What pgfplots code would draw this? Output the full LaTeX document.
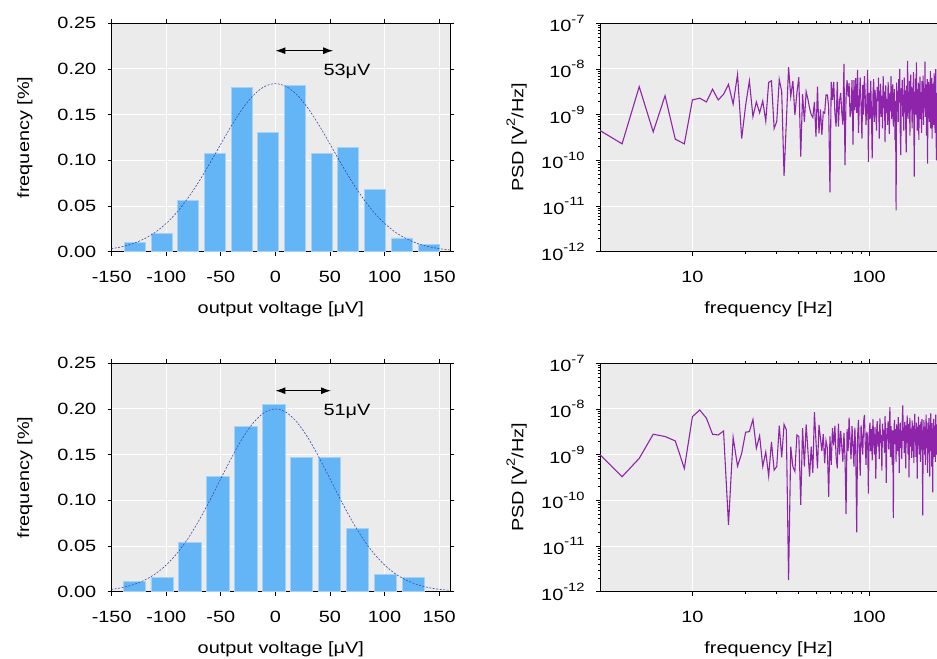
\documentclass[border=0pt]{standalone}
\usepackage{pgfplots}
\pgfplotsset{compat=1.18}
\usepackage{pgfplotstable}
\usetikzlibrary{arrows.meta}
\usepackage{fontspec}
\setmainfont{Liberation Sans}[FakeStretch=1.22]
\newcommand\fs{\fontsize{16.3bp}{19bp}\selectfont}
\newcommand\mysup[1]{\raisebox{8.5bp}{\fontsize{12bp}{12bp}\selectfont #1}}
\definecolor{bgc}{HTML}{EBEBEB}
\definecolor{barc}{HTML}{64B5F6}
\definecolor{barb}{HTML}{A6D2F8}
\definecolor{gaussc}{HTML}{3A4AB0}
\definecolor{psdc}{HTML}{8E24AA}
\tikzset{myarrow/.style={{Latex[length=10bp,width=7bp]}-{Latex[length=10bp,width=7bp]}, line width=1.2bp}}

\pgfplotstableread{
f p
3 4.5e-10
4 2.3e-10
5 4.1e-9
6 4.2e-10
7 2.6e-9
8 2.9e-10
9 2.3e-10
10 2.1e-9
11 2.3e-9
12 1.9e-9
13 3.6e-9
14 2.1e-9
15 2.8e-9
16 4.6e-9
17 1.7e-9
18 7.6e-9
19 3.0e-10
20 1.6e-9
21 5.5e-9
22 9.1e-10
23 1.9e-9
24 1.1e-9
25 2.0e-9
26 7.2e-10
27 5.1e-9
28 5.5e-9
29 5.0e-10
30 7.1e-10
31 5.9e-9
32 3.2e-9
33 4.6e-11
34 7.0e-10
35 1.1e-8
36 2.5e-9
37 5.5e-9
38 9.8e-10
39 3.0e-9
40 6.6e-9
41 1.2e-10
42 2.8e-9
43 7.0e-10
44 3.2e-9
45 2.2e-9
46 1.4e-9
47 1.0e-9
48 8.7e-10
49 1.9e-9
50 3.3e-10
51 4.1e-9
52 3.9e-10
53 1.3e-9
54 3.6e-10
55 1.15e-9
56 1.07e-9
57 2.7e-9
58 2.7e-9
59 1.5e-9
60 2.0e-11
61 5.2e-9
62 2.1e-9
63 5.2e-9
64 1.07e-9
65 5.5e-10
66 5.2e-9
67 5.5e-10
68 2.0e-9
69 3.0e-9
70 1.1e-9
71 6.0e-10
72 1.3e-8
73 7.9e-11
74 2.5e-9
75 5.7e-9
76 2.5e-9
77 4.9e-9
78 8.9e-10
79 1.26e-9
80 5.7e-9
81 2.2e-10
82 5.7e-9
83 1.26e-9
84 6.3e-9
85 1.1e-9
86 9.5e-9
87 4.0e-10
88 2.0e-9
89 6.5e-9
90 1.5e-9
91 3.0e-10
92 4.5e-9
93 1.0e-9
94 7.0e-9
95 2.5e-9
96 6.0e-10
97 1.8e-9
98 9.5e-9
99 9.3e-11
100 3.0e-9
101 8.0e-10
102 5.5e-9
103 1.2e-9
104 1.1e-10
105 2.5e-9
106 6.0e-9
107 7.0e-10
108 3.5e-9
109 1.5e-9
110 4.5e-10
111 4.0e-9
112 2.0e-9
113 6.5e-9
114 3.0e-10
115 1.8e-9
116 4.8e-9
117 9.0e-10
118 2.6e-9
119 5.0e-10
120 7.0e-9
121 1.4e-9
122 3.2e-9
123 2.5e-10
124 4.4e-9
125 1.1e-9
126 2.2e-9
127 6.0e-10
128 5.2e-9
129 1.7e-9
130 3.8e-10
131 3.0e-9
132 1.2e-9
133 7.0e-9
134 8.0e-10
135 2.4e-9
136 4.6e-9
137 5.5e-10
138 1.9e-9
139 3.6e-9
140 2.8e-10
141 2.0e-9
142 8.0e-12
143 5.0e-9
144 1.3e-9
145 3.3e-9
146 7.0e-10
147 6.0e-9
148 2.2e-9
149 1.0e-8
150 4.0e-10
151 1.3e-10
152 3.8e-9
153 1.6e-9
154 5.8e-9
155 9.0e-10
156 2.7e-9
157 4.5e-10
158 6.5e-9
159 1.9e-9
160 3.4e-9
161 6.0e-10
162 1.5e-10
163 4.2e-9
164 2.4e-9
165 1.5e-8
166 8.0e-10
167 3.0e-9
168 1.1e-9
169 5.5e-9
170 3.5e-10
171 2.2e-9
172 7.5e-9
173 1.3e-9
174 4.0e-9
175 5.0e-10
176 2.9e-9
177 1.6e-9
178 8.5e-9
179 7.0e-10
180 4.4e-11
181 3.2e-9
182 1.8e-9
183 6.2e-9
184 1.0e-9
185 1.4e-8
186 2.3e-9
187 4.5e-10
188 3.6e-9
189 1.2e-9
190 5.0e-9
191 2.8e-10
192 2.5e-9
193 1.5e-9
194 6.8e-9
195 8.0e-10
196 3.1e-9
197 1.9e-9
198 4.0e-10
199 5.4e-9
200 2.0e-9
201 1.1e-9
202 7.2e-9
203 6.0e-10
204 2.6e-9
205 3.8e-9
206 1.4e-9
207 1.45e-8
208 9.0e-10
209 2.2e-9
210 4.6e-9
211 3.5e-10
212 1.7e-9
213 6.0e-9
214 8.5e-11
215 3.3e-9
216 1.3e-9
217 5.2e-9
218 2.4e-9
219 7.0e-10
220 4.2e-9
221 1.8e-9
222 9.0e-9
223 5.0e-10
224 2.9e-9
225 1.2e-9
226 6.4e-9
227 3.0e-10
228 2.1e-9
229 4.8e-9
230 1.0e-9
231 3.5e-9
232 6.0e-10
233 8.0e-9
234 1.6e-9
235 2.7e-9
236 4.0e-10
237 5.5e-9
238 1.0e-8
239 1.4e-9
240 1.0e-10
241 3.0e-9
242 1.8e-9
}\psdtop

\pgfplotstableread{
f p
3 1.0e-9
4 3.3e-10
5 8.3e-10
6 2.8e-9
7 2.5e-9
8 2.0e-9
9 5.0e-10
10 6.8e-9
11 9.5e-9
12 6.3e-9
13 2.8e-9
14 2.7e-9
15 3.3e-9
16 2.9e-11
17 2.4e-9
18 5.6e-10
19 1.07e-9
20 3.1e-9
21 3.2e-9
22 5.9e-9
23 1.38e-9
24 2.6e-9
25 5.5e-10
26 1.15e-9
27 3.4e-10
28 1.9e-9
29 4.6e-10
30 5.5e-10
31 4.3e-9
32 8.7e-10
33 4.6e-9
34 3.5e-9
35 1.8e-12
36 1.5e-9
37 5.5e-10
38 4.3e-10
39 2.7e-9
40 2.5e-9
41 8.0e-11
42 3.8e-9
43 5.5e-10
44 4.6e-9
45 1.26e-9
46 3.3e-10
47 1.5e-9
48 4.0e-10
49 8.5e-9
50 2.0e-9
51 5.0e-10
52 4.5e-9
53 2.3e-9
54 1.2e-9
55 2.8e-9
56 6.5e-10
57 2.0e-9
58 1.4e-9
59 1.2e-10
60 2.5e-9
61 6.0e-10
62 3.8e-9
63 1.6e-9
64 4.3e-9
65 9.0e-10
66 5.0e-10
67 4.8e-9
68 1.0e-9
69 3.3e-9
70 1.5e-9
71 7.0e-10
72 3.0e-9
73 9.0e-10
74 5.0e-11
75 3.6e-9
76 1.2e-9
77 6.5e-9
78 2.0e-9
79 8.0e-10
80 4.2e-9
81 1.6e-9
82 5.5e-10
83 3.9e-9
84 1.1e-9
85 2.0e-11
86 2.5e-9
87 5.8e-9
88 1.3e-9
89 3.5e-10
90 4.4e-9
91 2.1e-9
92 1.0e-9
93 5.2e-9
94 7.4e-9
95 1.8e-9
96 6.0e-10
97 3.2e-9
98 2.4e-9
99 1.4e-10
100 2.8e-9
101 5.0e-9
102 1.2e-9
103 3.6e-9
104 7.5e-10
105 6.0e-9
106 2.2e-9
107 1.0e-9
108 4.0e-9
109 3.0e-10
110 2.6e-9
111 5.4e-9
112 1.5e-9
113 3.2e-9
114 8.0e-10
115 6.2e-9
116 1.8e-9
117 2.7e-9
118 4.5e-10
119 4.8e-9
120 2.0e-9
121 3.5e-9
122 1.1e-9
123 7.0e-9
124 1.6e-9
125 2.4e-10
126 3.8e-9
127 2.2e-9
128 5.5e-9
129 1.3e-9
130 3.0e-9
131 1.1e-8
132 9.0e-10
133 4.2e-9
134 2.0e-9
135 6.0e-10
136 3.4e-9
137 4.1e-11
138 2.8e-9
139 5.8e-9
140 1.7e-9
141 3.6e-9
142 7.0e-10
143 4.6e-9
144 2.2e-9
145 1.2e-9
146 6.6e-9
147 3.0e-9
148 4.0e-10
149 2.5e-9
150 5.0e-9
151 1.4e-9
152 3.3e-9
153 8.0e-10
154 6.0e-9
155 1.2e-8
156 2.0e-9
157 3.9e-9
158 1.1e-9
159 5.2e-9
160 2.6e-9
161 5.0e-10
162 4.4e-9
163 1.8e-9
164 7.2e-9
165 2.9e-9
166 1.0e-9
167 4.7e-9
168 3.2e-10
169 2.3e-9
170 6.4e-9
171 1.5e-9
172 3.7e-9
173 2.1e-9
174 8.5e-10
175 5.6e-9
176 2.7e-9
177 1.2e-9
178 4.3e-9
179 6.5e-10
180 3.1e-9
181 7.8e-9
182 1.9e-9
183 3.6e-9
184 9.0e-10
185 5.0e-9
186 2.4e-9
187 3.0e-10
188 4.0e-9
189 1.6e-9
190 6.8e-9
191 2.8e-9
192 1.0e-9
193 4.5e-9
194 2.2e-9
195 7.0e-10
196 5.3e-9
197 3.0e-9
198 1.3e-9
199 6.0e-9
200 8.0e-10
201 4.7e-11
202 3.4e-9
203 1.7e-9
204 5.7e-9
205 2.5e-9
206 1.0e-9
207 4.1e-9
208 6.0e-10
209 2.8e-9
210 7.5e-9
211 1.4e-9
212 3.6e-9
213 2.0e-9
214 4.0e-10
215 5.0e-9
216 2.6e-9
217 1.1e-9
218 6.3e-9
219 1.8e-9
220 3.3e-10
221 4.4e-9
222 2.3e-9
223 8.0e-9
224 1.2e-9
225 3.1e-9
226 5.5e-10
227 4.9e-9
228 2.0e-9
229 1.5e-10
230 3.7e-9
231 1.4e-9
232 6.1e-9
233 2.7e-9
234 9.0e-10
235 4.3e-9
236 3.0e-9
237 7.0e-10
238 7.5e-9
239 2.1e-9
240 1.0e-9
241 4.6e-9
242 2.5e-9
}\psdbot

\pgfplotsset{
  mybase/.style={
    scale only axis,
    axis background/.style={fill=bgc},
    grid=major,
    major grid style={white, line width=1bp},
    tick align=outside,
    major tick length=4bp,
    minor tick length=2.5bp,
    every tick/.style={black, line width=0.7bp},
    axis line style={line width=0.8bp},
    tick label style={font=\fs},
    label style={font=\fs},
    xticklabel style={yshift=-12bp},
    yticklabel style={xshift=-8bp},
    /pgf/number format/assume math mode=true,
  },
  myhist/.style={
    mybase,
    width=338.3bp, height=228.4bp,
    xmin=-150, xmax=160, ymin=0, ymax=0.25,
    xtick={-150,-100,-50,0,50,100,150},
    ytick={0,0.05,0.10,0.15,0.20,0.25},
    yticklabel style={/pgf/number format/fixed, /pgf/number format/fixed zerofill, /pgf/number format/precision=2},
    xlabel={output voltage [μV]},
    ylabel={frequency [\%]},
    xlabel style={at={(axis description cs:0.5,0)}, anchor=north, inner sep=0pt, yshift=-50bp},
    ylabel style={at={(axis description cs:0,0.5)}, anchor=center, inner sep=0pt, yshift=86.7bp},
  },
  mypsd/.style={
    mybase,
    axis y line*=left,
    width=337bp, height=228.4bp,
    xmin=3, xmax=242, ymin=1e-12, ymax=1e-7,
    xtick={10,100}, xticklabels={10,100},
    ytick={1e-12,1e-11,1e-10,1e-9,1e-8,1e-7},
    yticklabels={10\mysup{-12},10\mysup{-11},10\mysup{-10},10\mysup{-9},10\mysup{-8},10\mysup{-7}},
    xlabel={frequency [Hz]},
    ylabel={PSD [V\mysup{2}/Hz]},
    xlabel style={at={(axis description cs:0.5,0)}, anchor=north, inner sep=0pt, yshift=-50bp},
    ylabel style={at={(axis description cs:0,0.5)}, anchor=center, inner sep=0pt, yshift=83.3bp},
  },
  mygauss/.style={gaussc, line width=0.6bp, dash pattern=on 2bp off 1.5bp, smooth},
  mybars/.style={ybar, fill=barc, draw=barb, line width=0.9bp},
}

\begin{document}
\begin{tikzpicture}[font=\fs]
% top-left histogram
\begin{axis}[myhist, at={(111.7bp,-23.3bp)}, anchor=north west]
\addplot[mybars, bar width=19.2] coordinates {
(-128.8,0.010) (-104.3,0.020) (-79.9,0.056) (-55.4,0.108) (-30.9,0.180) (-6.5,0.130)
(18.0,0.182) (42.5,0.108) (66.9,0.114) (91.4,0.068) (115.9,0.015) (140.3,0.008)};
\addplot[mygauss] coordinates {
(-160,0.0019) (-150,0.0034) (-140,0.0056) (-130,0.0091) (-120,0.0142) (-110,0.0213)
(-100,0.0310) (-90,0.0435) (-80,0.0589) (-70,0.0769) (-60,0.0969) (-50,0.1179)
(-40,0.1384) (-30,0.1568) (-20,0.1714) (-10,0.1808) (0,0.184) (10,0.1808)
(20,0.1714) (30,0.1568) (40,0.1384) (50,0.1179) (60,0.0969) (70,0.0769)
(80,0.0589) (90,0.0435) (100,0.0310) (110,0.0213) (120,0.0142) (130,0.0091)
(140,0.0056) (150,0.0034) (160,0.0019)};
\draw[myarrow] (axis cs:0,0.22) -- (axis cs:53,0.22);
\node[anchor=west, inner sep=0pt] at (axis cs:44,0.197) {53μV};
\end{axis}

% bottom-left histogram
\begin{axis}[myhist, at={(111.7bp,-363.3bp)}, anchor=north west]
\addplot[mybars, bar width=20.4] coordinates {
(-129.4,0.011) (-103.8,0.016) (-78.2,0.054) (-52.6,0.126) (-27.0,0.181) (-1.4,0.205)
(24.2,0.147) (49.8,0.147) (75.4,0.069) (101.0,0.019) (126.6,0.016)};
\addplot[mygauss] coordinates {
(-160,0.0015) (-150,0.0026) (-140,0.0046) (-130,0.0078) (-120,0.0126) (-110,0.0195)
(-100,0.0293) (-90,0.0422) (-80,0.0584) (-70,0.0780) (-60,0.1001) (-50,0.1237)
(-40,0.1470) (-30,0.1682) (-20,0.1852) (-10,0.1962) (0,0.200) (10,0.1962)
(20,0.1852) (30,0.1682) (40,0.1470) (50,0.1237) (60,0.1001) (70,0.0780)
(80,0.0584) (90,0.0422) (100,0.0293) (110,0.0195) (120,0.0126) (130,0.0078)
(140,0.0046) (150,0.0026) (160,0.0015)};
\draw[myarrow] (axis cs:0,0.22) -- (axis cs:51,0.22);
\node[anchor=west, inner sep=0pt] at (axis cs:44,0.197) {51μV};
\end{axis}

% top-right PSD
\begin{axis}[xmode=log, ymode=log, mypsd, at={(600bp,-23.3bp)}, anchor=north west]
\addplot[psdc, line width=1.1bp] table[x=f, y=p] {\psdtop};
\end{axis}

% bottom-right PSD
\begin{axis}[xmode=log, ymode=log, mypsd, at={(600bp,-363.3bp)}, anchor=north west]
\addplot[psdc, line width=1.1bp] table[x=f, y=p] {\psdbot};
\end{axis}

\pgfresetboundingbox
\path[use as bounding box] (0,0) rectangle (937bp,-659bp);
\end{tikzpicture}
\end{document}
